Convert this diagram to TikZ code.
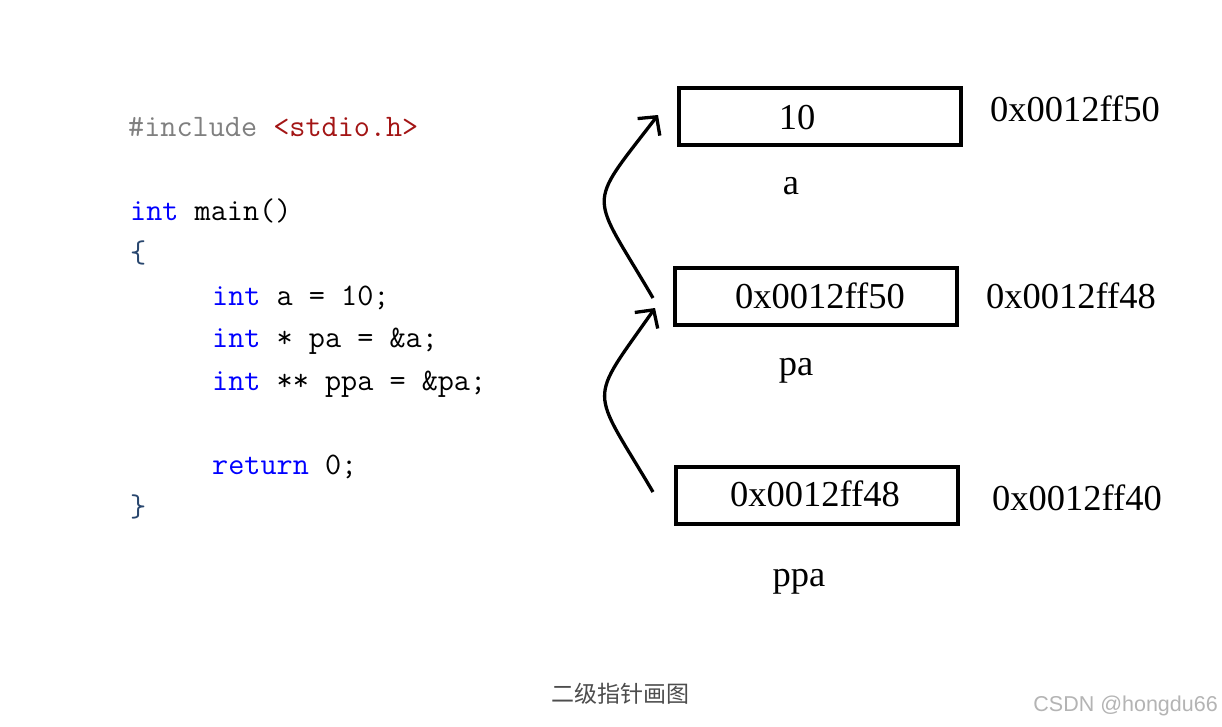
\documentclass[tikz,border=0pt]{standalone}
\usepackage{fontspec}
\newfontfamily\cjk{Noto Sans CJK SC}
\newfontfamily\serifnum{Liberation Serif}
\newfontfamily\wmfont{Liberation Sans}
\usetikzlibrary{arrows.meta,calc}
\definecolor{kw}{RGB}{0,0,255}
\definecolor{pp}{RGB}{128,128,128}
\definecolor{hdr}{RGB}{163,21,21}
\definecolor{brace}{RGB}{40,70,110}
\definecolor{capc}{RGB}{77,77,77}
\definecolor{wm}{RGB}{180,180,180}
\begin{document}
\begin{tikzpicture}[x=1pt,y=-1pt,
  code/.style={anchor=base west, inner sep=0, font=\fontsize{31.3}{36}\selectfont\ttfamily},
  cell/.style={draw, line width=4pt, minimum width=282pt, minimum height=57pt, inner sep=0},
  val/.style={anchor=base, inner sep=0, font=\serifnum\fontsize{36.5}{42}\selectfont},
  ptr/.style={line width=3.3pt, -{Straight Barb[length=13pt,width=28pt]}}
]
\fill[white] (0,0) rectangle (1222,726);
\path[use as bounding box] (0,0) rectangle (1222,726);

% code
\node[code] (l1) at (128,136) {\textcolor{pp}{\#include} \textcolor{hdr}{<stdio.h>}};
\node[code] (l2) at (130,220) {\textcolor{kw}{int} main()};
\node[code] (l3) at (130,262) {\textcolor{brace}{\{}};
\node[code] (l4) at (212,305) {\textcolor{kw}{int} a = 10;};
\node[code] (l5) at (212,347) {\textcolor{kw}{int} * pa = \&a;};
\node[code] (l6) at (212,390) {\textcolor{kw}{int} ** ppa = \&pa;};
\node[code] (l7) at (212,474) {\textcolor{kw}{return} 0;};
\node[code] (l8) at (130,516) {\textcolor{brace}{\}}};

% memory cells
\node[cell] (a) at (819.5,116) {};
\node[cell] (pa) at (816,296.5) {};
\node[cell] (ppa) at (817,495.5) {};

\node[val] (va) at (797,129) {10};
\node[val] (vpa) at (820,308) {0x0012ff50};
\node[val] (vppa) at (815,506) {0x0012ff48};

\node[val] (addra) at (1075,121) {0x0012ff50};
\node[val] (addrpa) at (1071,308) {0x0012ff48};
\node[val] (addrppa) at (1077,510) {0x0012ff40};

\node[val] (na) at (791,194) {a};
\node[val] (npa) at (796,375) {pa};
\node[val] (nppa) at (799,586) {ppa};

% pointers
\draw[ptr] ($(pa.west)+(-20,1.5)$) .. controls (590,190) and (585,210) .. ($(a.west)+(-18.5,-1)$);
\draw[ptr] ($(ppa.west)+(-21,-3.5)$) .. controls (590,385) and (587,405) .. ($(pa.west)+(-18,11.5)$);

% caption
\node[inner sep=0, text=capc, font=\cjk\fontsize{23}{28}\selectfont] (cap) at (620,694) {二级指针画图};
\node[anchor=east, inner sep=0, text=wm, font=\wmfont\fontsize{21.5}{26}\selectfont] (wmk) at (1218,706) {CSDN @hongdu66};
\end{tikzpicture}
\end{document}
